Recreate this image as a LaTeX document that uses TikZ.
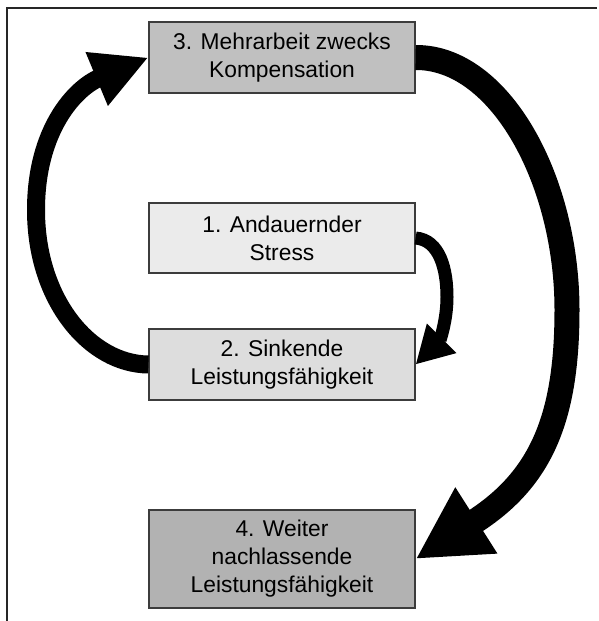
\documentclass[tikz,border=0pt]{standalone}
\usepackage{fontspec}
\setmainfont{Liberation Sans}
\usepackage{tikz}
\usetikzlibrary{arrows.meta}
\definecolor{rahmen}{HTML}{3C3C3C}
\definecolor{stufeA}{HTML}{EBEBEB}
\definecolor{stufeB}{HTML}{DDDDDD}
\definecolor{stufeC}{HTML}{C0C0C0}
\definecolor{stufeD}{HTML}{B2B2B2}
\tikzset{
  stufe/.style={draw=rahmen, line width=0.6pt, align=center, inner sep=0pt,
    minimum width=133pt, font=\fontsize{11.4}{14}\selectfont},
  pfeil/.style={draw=black, line cap=butt}
}

\begin{document}
\begin{tikzpicture}[x=0.5pt,y=0.5pt]
\useasboundingbox (0,0) rectangle (599,-621);
% frame (left and top only)
\draw[line width=1pt, black!85] (597,-8) -- (7,-8) -- (7,-621);

\node[stufe, fill=stufeC, minimum height=35.5pt] (kompensation) at (282,-57.5) {3. Mehrarbeit zwecks\\Kompensation};
\node[stufe, fill=stufeA, minimum height=35pt] (stress) at (282,-238) {1. Andauernder\\Stress};
\node[stufe, fill=stufeB, minimum height=35.5pt] (sinkend) at (282,-364.5) {2. Sinkende\\Leistungsf\"ahigkeit};
\node[stufe, fill=stufeD, minimum height=49pt] (weiter) at (282,-559) {4. Weiter\\nachlassende\\Leistungsf\"ahigkeit};

% 1 -> 2
\draw[pfeil, line width=6.5pt, -{Triangle[length=18.5pt,width=19.5pt]}]
  (stress.east) .. controls (440,-240) and (447,-270) .. (447,-297)
  .. controls (447,-320) and (440,-340) .. (sinkend.east);
% 2 -> 3
\draw[pfeil, line width=9pt, -{Triangle[length=28pt,width=27pt]}]
  (sinkend.west) .. controls (90,-364) and (36,-300) .. (36,-210)
  .. controls (36,-130) and (75,-88) .. (kompensation.west);
% 3 -> 4
\draw[pfeil, line width=12.5pt, -{Triangle[length=36pt,width=36.5pt]}]
  (kompensation.east) .. controls (500,-57) and (567,-180) .. (567,-310)
  .. controls (567,-420) and (540,-480) .. (weiter.east);
\end{tikzpicture}
\end{document}
